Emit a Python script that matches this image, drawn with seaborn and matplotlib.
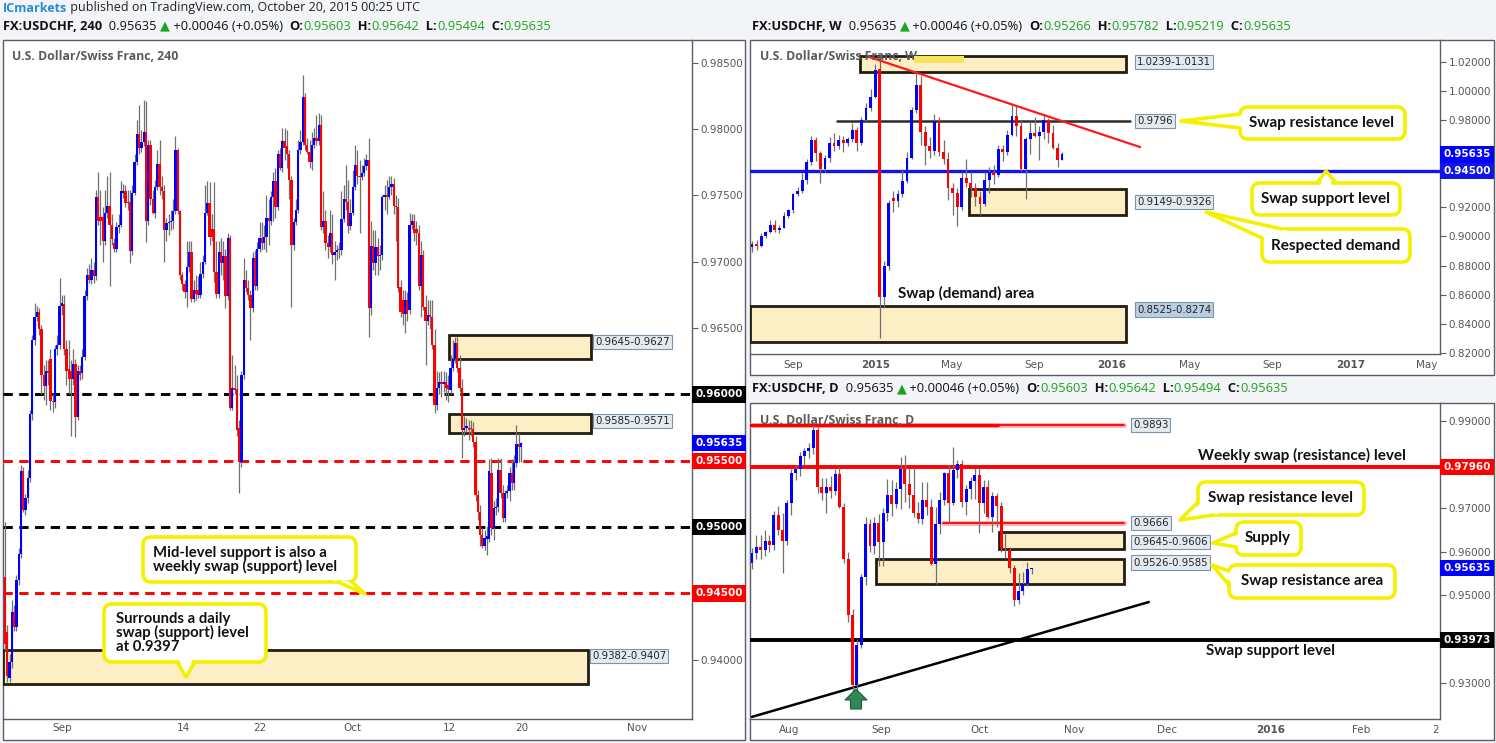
import numpy as np
import pandas as pd
import matplotlib
matplotlib.use("Agg")
import matplotlib.pyplot as plt
import seaborn as sns
from matplotlib.patches import Rectangle, FancyBboxPatch, Polygon
from matplotlib.transforms import Affine2D, blended_transform_factory
from matplotlib.lines import Line2D
from matplotlib.ticker import FuncFormatter

# ------------------------------------------------------------------ data
# USDCHF 240 (4H) candles, Aug 26 - Oct 20 2015
h4_open = [
    .9462, .9421, .9386, .9398, .9436, .9425, .9460, .9480, .9542, .9513,
    .9522, .9537, .9585, .9641, .9658, .9662, .9649, .9615, .9606, .9618,
    .9627, .9595, .9594, .9634, .9637, .9667, .9668, .9634, .9619, .9618,
    .9612, .9623, .9583, .9618, .9616, .9628, .9674, .9690, .9686, .9694,
    .9689, .9749, .9734, .9734, .9716, .9737, .9742, .9728, .9714, .9710,
    .9726, .9728, .9752, .9753, .9745, .9745, .9708, .9752, .9775, .9796,
    .9786, .9790, .9798, .9731, .9788, .9747, .9737, .9756, .9774, .9756,
    .9753, .9724, .9729, .9730, .9731, .9738, .9784, .9738, .9690, .9683,
    .9677, .9696, .9707, .9672, .9679, .9679, .9675, .9691, .9700, .9737,
    .9744, .9725, .9725, .9692, .9676, .9707, .9699, .9704, .9674, .9718,
    .9590, .9605, .9604, .9575, .9549, .9615, .9686, .9680, .9675, .9665,
    .9703, .9682, .9710, .9718, .9714, .9719, .9733, .9731, .9749, .9761,
    .9741, .9781, .9771, .9791, .9787, .9781, .9762, .9713, .9730, .9739,
    .9784, .9790, .9824, .9788, .9783, .9775, .9788, .9793, .9791, .9803,
    .9726, .9731, .9714, .9711, .9722, .9705, .9707, .9710, .9709, .9732,
    .9747, .9745, .9727, .9737, .9756, .9773, .9765, .9764, .9767, .9772,
    .9777, .9665, .9712, .9699, .9711, .9704, .9705, .9749, .9750, .9749,
    .9756, .9759, .9742, .9741, .9681, .9671, .9661, .9671, .9664, .9728,
    .9731, .9725, .9722, .9682, .9705, .9666, .9655, .9660, .9658, .9637,
    .9592, .9605, .9609, .9608, .9609, .9607, .9603, .9620, .9627, .9639,
    .9620, .9605, .9573, .9575, .9575, .9575, .9574, .9564, .9524, .9511,
    .9494, .9486, .9491, .9491, .9541, .9499, .9514, .9515, .9543, .9526,
    .9507, .9526, .9527, .9541, .9533, .9548, .9563, .95603]
h4_high = [
    .9504, .9426, .9404, .9445, .9441, .9464, .9484, .9547, .9545, .9525,
    .9543, .9588, .9645, .9669, .9667, .9665, .9652, .9622, .9626, .9626,
    .9634, .9600, .9637, .9645, .9688, .9675, .9675, .9641, .9641, .9626,
    .9634, .9627, .9622, .9622, .9634, .9679, .9695, .9698, .9703, .9700,
    .9754, .9768, .9754, .9741, .9754, .9765, .9768, .9736, .9718, .9730,
    .9736, .9761, .9759, .9758, .9754, .9754, .9758, .9781, .9807, .9818,
    .9799, .9822, .9821, .9792, .9792, .9754, .9762, .9784, .9792, .9765,
    .9758, .9733, .9736, .9739, .9747, .9795, .9786, .9739, .9692, .9686,
    .9716, .9716, .9716, .9686, .9690, .9689, .9700, .9705, .9758, .9761,
    .9760, .9736, .9760, .9716, .9716, .9718, .9716, .9710, .9722, .9720,
    .9630, .9622, .9615, .9581, .9618, .9703, .9694, .9686, .9679, .9707,
    .9709, .9715, .9730, .9730, .9728, .9750, .9747, .9753, .9768, .9771,
    .9784, .9786, .9801, .9801, .9799, .9784, .9765, .9733, .9747, .9792,
    .9799, .9841, .9827, .9793, .9792, .9798, .9801, .9811, .9812, .9811,
    .9753, .9739, .9720, .9739, .9736, .9716, .9713, .9715, .9753, .9758,
    .9773, .9762, .9747, .9769, .9788, .9784, .9777, .9773, .9778, .9781,
    .9793, .9731, .9724, .9724, .9718, .9713, .9750, .9758, .9762, .9765,
    .9765, .9763, .9750, .9748, .9686, .9679, .9679, .9677, .9737, .9736,
    .9736, .9731, .9728, .9716, .9709, .9675, .9671, .9671, .9671, .9649,
    .9618, .9617, .9618, .9618, .9617, .9615, .9630, .9641, .9643, .9643,
    .9630, .9612, .9584, .9582, .9581, .9581, .9579, .9569, .9528, .9517,
    .9499, .9498, .9501, .9551, .9552, .9520, .9522, .9552, .9552, .9532,
    .9528, .9532, .9545, .9551, .9554, .9577, .9571, .95642]
h4_low = [
    .9407, .9383, .9383, .9394, .9422, .9422, .9456, .9477, .9511, .9509,
    .9518, .9534, .9581, .9637, .9655, .9645, .9600, .9596, .9592, .9607,
    .9588, .9587, .9590, .9630, .9634, .9660, .9630, .9607, .9600, .9569,
    .9607, .9568, .9581, .9611, .9612, .9626, .9671, .9684, .9683, .9684,
    .9686, .9728, .9713, .9700, .9713, .9733, .9682, .9713, .9707, .9707,
    .9722, .9726, .9748, .9741, .9739, .9699, .9705, .9750, .9773, .9781,
    .9783, .9787, .9715, .9728, .9743, .9736, .9733, .9754, .9750, .9747,
    .9700, .9716, .9720, .9724, .9725, .9736, .9736, .9686, .9679, .9673,
    .9666, .9692, .9670, .9670, .9671, .9673, .9673, .9688, .9698, .9735,
    .9713, .9716, .9685, .9673, .9673, .9690, .9686, .9665, .9671, .9588,
    .9588, .9600, .9569, .9526, .9545, .9612, .9677, .9671, .9641, .9662,
    .9679, .9679, .9707, .9709, .9710, .9707, .9713, .9728, .9731, .9733,
    .9739, .9769, .9768, .9777, .9771, .9747, .9666, .9709, .9728, .9737,
    .9781, .9788, .9784, .9781, .9771, .9769, .9786, .9788, .9788, .9724,
    .9722, .9709, .9703, .9707, .9698, .9686, .9701, .9703, .9705, .9730,
    .9739, .9722, .9724, .9735, .9754, .9759, .9722, .9762, .9765, .9769,
    .9643, .9660, .9694, .9690, .9690, .9694, .9701, .9739, .9736, .9747,
    .9750, .9736, .9716, .9677, .9658, .9652, .9646, .9655, .9661, .9725,
    .9716, .9713, .9679, .9658, .9664, .9622, .9652, .9649, .9634, .9586,
    .9588, .9600, .9598, .9602, .9596, .9594, .9600, .9618, .9624, .9617,
    .9602, .9552, .9569, .9572, .9566, .9569, .9560, .9520, .9505, .9486,
    .9484, .9483, .9479, .9489, .9494, .9490, .9509, .9511, .9522, .9504,
    .9504, .9522, .9520, .9528, .9528, .9545, .9549, .95494]
h4_close = [
    .9412, .9388, .9398, .9436, .9425, .9460, .9480, .9542, .9513, .9522,
    .9537, .9585, .9641, .9658, .9662, .9649, .9615, .9606, .9618, .9616,
    .9595, .9594, .9634, .9637, .9667, .9669, .9634, .9618, .9612, .9612,
    .9623, .9583, .9618, .9615, .9628, .9674, .9690, .9686, .9694, .9689,
    .9749, .9731, .9731, .9716, .9737, .9742, .9728, .9717, .9710, .9726,
    .9728, .9753, .9753, .9744, .9744, .9708, .9752, .9775, .9796, .9786,
    .9790, .9798, .9731, .9788, .9747, .9737, .9756, .9774, .9756, .9753,
    .9724, .9729, .9730, .9731, .9738, .9784, .9738, .9690, .9683, .9677,
    .9696, .9707, .9672, .9679, .9676, .9675, .9691, .9700, .9737, .9744,
    .9719, .9719, .9692, .9676, .9707, .9699, .9704, .9674, .9718, .9590,
    .9605, .9603, .9573, .9549, .9615, .9686, .9680, .9675, .9665, .9703,
    .9682, .9710, .9718, .9714, .9719, .9733, .9731, .9749, .9761, .9741,
    .9781, .9771, .9791, .9786, .9781, .9762, .9713, .9730, .9739, .9784,
    .9790, .9824, .9788, .9783, .9775, .9788, .9793, .9791, .9803, .9726,
    .9731, .9714, .9711, .9722, .9705, .9707, .9709, .9709, .9732, .9747,
    .9745, .9727, .9737, .9756, .9773, .9765, .9764, .9767, .9772, .9777,
    .9665, .9712, .9699, .9711, .9704, .9705, .9749, .9750, .9749, .9756,
    .9759, .9742, .9741, .9680, .9662, .9661, .9671, .9661, .9728, .9731,
    .9722, .9722, .9682, .9705, .9666, .9655, .9660, .9658, .9637, .9592,
    .9605, .9609, .9608, .9609, .9605, .9604, .9620, .9627, .9639, .9620,
    .9605, .9573, .9575, .9576, .9573, .9574, .9564, .9524, .9511, .9494,
    .9486, .9492, .9493, .9542, .9499, .9514, .9515, .9543, .9526, .9507,
    .9526, .9527, .9541, .9533, .9548, .9563, .9560, .95635]

# USDCHF weekly candles, week of Jun 30 2014 - week of Oct 19 2015
w_open = [
    .8925, .8950, .8935, .9005, .9030, .9080, .9045, .9060, .9140, .9180,
    .9290, .9310, .9385, .9510, .9665, .9575, .9460, .9540, .9640, .9620,
    .9660, .9640, .9670, .9730, .9640, .9800, .9880, .9960, 1.0150, .8585,
    .8800, .9265, .9245, .9290, .9380, .9540, .9870, 1.0040, .9720, .9620,
    .9590, .9790, .9580, .9530, .9330, .9300, .9200, .9400, .9370, .9330,
    .9270, .9220, .9390, .9440, .9420, .9600, .9580, .9700, .9830, .9760,
    .9460, .9667, .9710, .9690, .9719, .9803, .9712, .9607, .95266]
w_high = [
    .8965, .8975, .9020, .9040, .9115, .9110, .9080, .9165, .9190, .9295,
    .9340, .9435, .9530, .9690, .9685, .9590, .9560, .9680, .9710, .9700,
    .9690, .9680, .9780, .9750, .9820, .9920, 1.0010, 1.0185, 1.0240, .8830,
    .9250, .9310, .9320, .9460, .9580, .9890, 1.0130, 1.0100, .9760, .9680,
    .9840, .9820, .9660, .9580, .9370, .9330, .9440, .9530, .9440, .9370,
    .9310, .9440, .9480, .9490, .9630, .9630, .9730, .9903, .9893, .9800,
    .9680, .9790, .9822, .9761, .9841, .9811, .9765, .9643, .95782]
w_low = [
    .8890, .8905, .8925, .8990, .9020, .9030, .9020, .9055, .9125, .9160,
    .9280, .9300, .9360, .9490, .9520, .9365, .9440, .9510, .9590, .9600,
    .9580, .9620, .9650, .9590, .9630, .9795, .9860, .9950, .8300, .8510,
    .8770, .9170, .9200, .9270, .9370, .9530, .9850, .9630, .9490, .9540,
    .9560, .9550, .9500, .9250, .9150, .9072, .9180, .9340, .9270, .9210,
    .9150, .9210, .9300, .9360, .9410, .9520, .9560, .9690, .9690, .9450,
    .9260, .9568, .9680, .9526, .9666, .9643, .9600, .9476, .95219]
w_close = [
    .8950, .8935, .9005, .9030, .9080, .9045, .9060, .9140, .9180, .9290,
    .9310, .9385, .9510, .9665, .9575, .9460, .9540, .9640, .9620, .9660,
    .9640, .9670, .9730, .9640, .9800, .9880, .9960, 1.0145, .8585, .8800,
    .9230, .9245, .9290, .9380, .9540, .9870, 1.0040, .9720, .9620, .9590,
    .9790, .9580, .9530, .9330, .9300, .9200, .9400, .9370, .9330, .9270,
    .9220, .9390, .9440, .9420, .9600, .9580, .9700, .9830, .9760, .9460,
    .9667, .9710, .9690, .9719, .9803, .9712, .9607, .9527, .95635]

# USDCHF daily candles, Jul 22 - Oct 20 2015
d_open = [
    .9575, .9597, .9612, .9605, .9625, .9616, .9685, .9650, .9625, .9712,
    .9781, .9790, .9820, .9832, .9838, .9880, .9750, .9735, .9750, .9740,
    .9780, .9704, .9585, .9455, .9294, .9386, .9543, .9665, .9614, .9667,
    .9623, .9690, .9731, .9710, .9744, .9790, .9756, .9730, .9690, .9676,
    .9719, .9704, .9573, .9665, .9719, .9781, .9713, .9788, .9803, .9714,
    .9745, .9764, .9777, .9712, .9749, .9680, .9728, .9705, .9607, .9605,
    .9564, .9490, .9510, .9527, .95603]
d_high = [
    .9610, .9640, .9640, .9650, .9640, .9695, .9705, .9690, .9720, .9790,
    .9800, .9830, .9840, .9850, .9893, .9888, .9770, .9770, .9775, .9790,
    .9795, .9712, .9600, .9470, .9400, .9550, .9680, .9675, .9680, .9688,
    .9700, .9768, .9765, .9761, .9818, .9822, .9792, .9795, .9716, .9761,
    .9760, .9722, .9703, .9737, .9784, .9801, .9841, .9812, .9811, .9753,
    .9773, .9793, .9793, .9765, .9765, .9737, .9736, .9716, .9643, .9612,
    .9569, .9552, .9554, .9578, .95642]
d_low = [
    .9560, .9585, .9585, .9590, .9600, .9605, .9640, .9551, .9615, .9685,
    .9765, .9775, .9800, .9815, .9825, .9735, .9720, .9690, .9725, .9730,
    .9700, .9575, .9440, .9260, .9280, .9380, .9525, .9600, .9595, .9568,
    .9568, .9672, .9682, .9700, .9699, .9715, .9700, .9680, .9666, .9665,
    .9685, .9569, .9526, .9641, .9707, .9666, .9709, .9769, .9703, .9686,
    .9722, .9722, .9643, .9690, .9677, .9646, .9658, .9600, .9586, .9552,
    .9476, .9480, .9500, .9522, .95494]
d_close = [
    .9597, .9612, .9605, .9625, .9616, .9685, .9650, .9625, .9712, .9781,
    .9790, .9820, .9832, .9838, .9880, .9750, .9735, .9750, .9740, .9780,
    .9704, .9585, .9455, .9294, .9386, .9543, .9665, .9614, .9667, .9623,
    .9690, .9731, .9710, .9744, .9790, .9756, .9730, .9690, .9676, .9719,
    .9704, .9573, .9665, .9719, .9781, .9713, .9788, .9803, .9714, .9745,
    .9764, .9777, .9712, .9749, .9680, .9728, .9705, .9607, .9605, .9564,
    .9490, .9510, .9527, .9560, .95635]

# annotation values
h4_levels = [0.9600, 0.9550, 0.9500, 0.9450]
h4_level_colors = ['#000000', '#ff0000', '#000000', '#ff0000']
h4_zones = [(0.9645, 0.9627), (0.9585, 0.9571), (0.9407, 0.9382)]
h4_zone_labels = ['0.9645-0.9627', '0.9585-0.9571', '0.9382-0.9407']
h4_ticklabels = ['Sep', '14', '22', 'Oct', '12', '20', 'Nov']
h4_yticks = [0.940, 0.965, 0.970, 0.975, 0.980, 0.985]

w_zones = [(1.0239, 1.0131), (0.9326, 0.9149), (0.8525, 0.8274)]
w_zone_labels = ['1.0239-1.0131', '0.9149-0.9326', '0.8525-0.8274']
w_resistance = 0.9796
w_support = 0.9450
w_trend_idx = [25.7, 85.1]
w_trend_price = [1.0233, 0.9614]
w_ticklabels = ['Sep', '2015', 'May', 'Sep', '2016', 'May', 'Sep', '2017', 'May']
w_yticks = [0.82, 0.84, 0.86, 0.88, 0.90, 0.92, 0.98, 1.00, 1.02]

d_levels = {'high': 0.9893, 'weekly': 0.9796, 'swap_res': 0.9666, 'swap_sup': 0.93973}
d_zones = [(0.9645, 0.9606), (0.9585, 0.9526)]
d_zone_labels = ['0.9645-0.9606', '0.9526-0.9585']
d_trend_idx = [0.0, 90.8]
d_trend_price = [0.9221, 0.9485]
d_ticklabels = ['Aug', 'Sep', 'Oct', 'Nov', 'Dec', '2016', 'Feb', '2']
d_yticks = [0.93, 0.95, 0.96, 0.97, 0.99]

last_price = 0.95635

# ------------------------------------------------------------------ figure
sns.set_theme(style="white")
plt.rcParams['font.family'] = ['DejaVu Sans']
CALLOUT_FONT = ['Lato', 'DejaVu Sans']
HEADER_FONT = ['Open Sans', 'DejaVu Sans']

W, H = 1496, 743
fig = plt.figure(figsize=(W / 100, H / 100), dpi=100)
fig.patch.set_facecolor('#f2f4f7')
renderer = fig.canvas.get_renderer()
PX = Affine2D().scale(1, -1).translate(0, H).scale(1 / W, 1 / H) + fig.transFigure

BLUE, RED, GREEN = '#0000ff', '#ff0000', '#1fa31f'
AXC = '#5b5e66'


def text_width(s, fs, weight='normal', family=None):
    t = fig.text(0, 0, s, fontsize=fs, fontweight=weight, family=family)
    w = t.get_window_extent(renderer).width
    t.remove()
    return w


def fit_fs(s, target, weight='normal', family=None, fs0=10.0):
    return fs0 * target / text_width(s, fs0, weight, family)


def panel(x0, y0, x1, y1):
    fig.add_artist(Rectangle((x0, y0), x1 - x0, y1 - y0, transform=PX, fc='white',
                             ec=AXC, lw=1.0, zorder=-5))


def add_ax(x0, y0, x1, y1):
    ax = fig.add_axes([x0 / W, 1 - y1 / H, (x1 - x0) / W, (y1 - y0) / H])
    ax.set_facecolor('none')
    for s in ['top', 'left']:
        ax.spines[s].set_visible(False)
    for s in ['right', 'bottom']:
        ax.spines[s].set_color(AXC)
        ax.spines[s].set_linewidth(1.0)
    ax.yaxis.tick_right()
    ax.tick_params(axis='y', right=True, left=False, length=4, width=0.8, color=AXC,
                   labelcolor='#555555', labelsize=7.5, pad=2)
    ax.tick_params(axis='x', bottom=False, length=0, labelcolor='#555555', labelsize=7.5, pad=3)
    ax.yaxis.set_major_formatter(FuncFormatter(lambda v, p: f'{v:.5f}'))
    ax.grid(False)
    return ax


def draw_candles(ax, o, h, l, c, width, minh):
    n = min(len(o), len(h), len(l), len(c))
    df = pd.DataFrame({'o': o[:n], 'h': h[:n], 'l': l[:n], 'c': c[:n]})
    x = np.arange(n)
    up = df.c.values >= df.o.values
    ax.vlines(x, df.l, df.h, color='#707070', lw=0.9, zorder=2)
    bottom = np.minimum(df.o, df.c)
    height = np.maximum(np.abs(df.c - df.o), minh)
    ax.bar(x, height, width=width, bottom=bottom, color=np.where(up, BLUE, RED),
           linewidth=0, zorder=3)


def price_tag(ax, price, text, color):
    tr = blended_transform_factory(ax.transAxes, ax.transData)
    ax.annotate(text, xy=(1, price), xycoords=tr, xytext=(3, 0), textcoords='offset pixels',
                ha='left', va='center', color='white', fontsize=7.5, fontweight='bold',
                bbox=dict(boxstyle='square,pad=0.3', fc=color, ec=color, lw=0),
                annotation_clip=False, zorder=12)


def zone(ax, x0, x1, top, bot):
    ax.add_patch(Rectangle((x0, min(top, bot)), x1 - x0, abs(top - bot), fc='#fdefc5',
                           ec='#231d12', lw=2.0, zorder=1))


def small_label(ax, x, price, text, dx, dy, fc='#e3ebf2'):
    ax.annotate(text, xy=(x, price), xycoords='data', xytext=(dx, dy), textcoords='offset pixels',
                ha='left', va='center', fontsize=7.3, color='#222222',
                bbox=dict(boxstyle='square,pad=0.2', fc=fc, ec='#7d93a8', lw=0.8),
                annotation_clip=False, zorder=9)


def callout(box, pointer, text, fs, tx, ty, ha='center', ls=1.0):
    x0, y0, x1, y1 = box
    fig.add_artist(FancyBboxPatch((x0, y0), x1 - x0, y1 - y0,
                                  boxstyle='round,pad=0,rounding_size=8', transform=PX,
                                  fc='white', ec='#f4f000', lw=2.6, zorder=20))
    b1, tip, b2 = pointer
    cx, cy = (x0 + x1) / 2, (y0 + y1) / 2

    def inward(p):
        v = np.array([cx - p[0], cy - p[1]], dtype=float)
        v = v / np.hypot(*v)
        return (p[0] + 5 * v[0], p[1] + 5 * v[1])
    fig.add_artist(Polygon([inward(b1), tip, inward(b2)], closed=True, transform=PX,
                           fc='white', ec='none', zorder=21))
    fig.add_artist(Line2D([b1[0], tip[0], b2[0]], [b1[1], tip[1], b2[1]], transform=PX,
                          color='#f4f000', lw=2.6, zorder=22))
    fig.text(tx, ty, text, transform=PX, ha=ha, va='center', fontsize=fs, fontweight='bold',
             family=CALLOUT_FONT, color='#111111', linespacing=ls, zorder=23)


def rich_line(x, y, parts, fs):
    cx = x
    for s, color, weight in parts:
        t = fig.text(cx, y, s, transform=PX, fontsize=fs, color=color, fontweight=weight,
                     family=HEADER_FONT, ha='left', va='center', zorder=5)
        cx += t.get_window_extent(renderer).width


def header_parts(tf, o, h, l, c):
    return [(f"FX:USDCHF, {tf}", '#111111', 'bold'), ("  0.95635 ", '#111111', 'normal'),
            ("\u25b2", GREEN, 'normal'), (" +0.00046 (+0.05%)  ", '#111111', 'normal'),
            ("O:", '#111111', 'bold'), (o, GREEN, 'normal'), ("  H:", '#111111', 'bold'),
            (h, GREEN, 'normal'), ("  L:", '#111111', 'bold'), (l, GREEN, 'normal'),
            ("  C:", '#111111', 'bold'), (c, GREEN, 'normal')]


# panels
panel(3, 40, 745, 740)
panel(750, 40, 1494, 375)
panel(750, 403, 1494, 740)

# ------------------------------------------------------------------ 4H chart
H4_STEP, H4_X0 = 2.273, 5.0
def h4_idx(px): return (px - H4_X0) / H4_STEP

ax1 = add_ax(3, 40, 692, 719)
draw_candles(ax1, h4_open, h4_high, h4_low, h4_close, 1.0, 0.00009)
for lv, col in zip(h4_levels, h4_level_colors):
    ax1.axhline(lv, color=col, lw=2.1, ls=(0, (3.2, 2.2)), zorder=1.5)
zx = [(h4_idx(449), h4_idx(591)), (h4_idx(449), h4_idx(591)), (h4_idx(3), h4_idx(588))]
for (top, bot), (a, b), lab, dy in zip(h4_zones, zx, h4_zone_labels, [-7, -7, -6]):
    zone(ax1, a, b, top, bot)
    small_label(ax1, b, top, lab, 4, dy)
ax1.set_xlim(h4_idx(3), h4_idx(692))
ax1.set_ylim(0.93553, 0.98672)
ax1.set_yticks(h4_yticks)
ax1.set_xticks([h4_idx(p) for p in [62, 183, 260, 352, 449, 522, 637]])
ax1.set_xticklabels(h4_ticklabels)
price_tag(ax1, 0.9600, '0.96000', '#000000')
price_tag(ax1, last_price, '0.95635', BLUE)
price_tag(ax1, 0.9550, '0.95500', RED)
price_tag(ax1, 0.9500, '0.95000', '#000000')
price_tag(ax1, 0.9450, '0.94500', RED)

# ------------------------------------------------------------------ weekly chart
W_STEP, W_X0 = 4.56, 752.0
def w_idx(px): return (px - W_X0) / W_STEP

ax2 = add_ax(750, 40, 1440, 354)
ax2.tick_params(axis='x', pad=4)
draw_candles(ax2, w_open, w_high, w_low, w_close, 0.62, 0.0008)
wzx = [(w_idx(860), w_idx(1126)), (w_idx(969), w_idx(1126)), (w_idx(750), w_idx(1126))]
for (top, bot), (a, b), lab, dy, fc in zip(w_zones, wzx, w_zone_labels, [-6, -13, -4],
                                           ['#e3ebf2', '#e3ebf2', '#b9cfe1']):
    zone(ax2, a, b, top, bot)
    small_label(ax2, b, max(top, bot), lab, 11, dy, fc=fc)
sns.lineplot(x=[w_idx(837), w_idx(1130)], y=[w_resistance, w_resistance], ax=ax2,
             color='#2b2b2b', lw=1.8, zorder=1.6, legend=False)
small_label(ax2, w_idx(1130), w_resistance, '0.9796', 7, 0)
ax2.axhline(w_support, color='#1414e6', lw=2.4, zorder=1.6)
sns.lineplot(x=w_trend_idx, y=w_trend_price, ax=ax2, color='#ff1a1a', lw=1.6, zorder=4,
             legend=False)
ax2.set_xlim(w_idx(750), w_idx(1440))
ax2.set_ylim(0.81918, 1.03498)
ax2.set_yticks(w_yticks)
ax2.set_xticks([w_idx(p) for p in [793, 876, 952, 1034, 1112, 1190, 1272, 1351, 1427]])
ax2.set_xticklabels(w_ticklabels)
ax2.set_xlabel('')
ax2.set_ylabel('')
price_tag(ax2, last_price, '0.95635', BLUE)
price_tag(ax2, w_support, '0.94500', '#1414e6')

# ------------------------------------------------------------------ daily chart
D_STEP, D_X0 = 4.37, 752.0
def d_idx(px): return (px - D_X0) / D_STEP

ax3 = add_ax(750, 403, 1440, 719)
ax3.tick_params(axis='x', pad=4)
draw_candles(ax3, d_open, d_high, d_low, d_close, 0.68, 0.00025)
ax3.plot([d_idx(750), d_idx(1124)], [d_levels['high']] * 2, color='#ffb0b0', lw=3.5, zorder=1.5)
ax3.plot([d_idx(750), d_idx(1124)], [d_levels['high']] * 2, color=RED, lw=1.3, zorder=1.6)
ax3.plot([d_idx(750), d_idx(998)], [d_levels['high']] * 2, color=RED, lw=2.4, zorder=1.7)
small_label(ax3, d_idx(1124), d_levels['high'], '0.9893', 9, 0)
ax3.axhline(d_levels['weekly'], color=RED, lw=2.8, zorder=1.6)
ax3.plot([d_idx(943), d_idx(1124)], [d_levels['swap_res']] * 2, color='#ffb0b0', lw=3.5, zorder=1.5)
ax3.plot([d_idx(943), d_idx(1124)], [d_levels['swap_res']] * 2, color=RED, lw=1.3, zorder=1.6)
small_label(ax3, d_idx(1124), d_levels['swap_res'], '0.9666', 9, 0)
dzx = [(d_idx(999), d_idx(1124)), (d_idx(876), d_idx(1124))]
for (top, bot), (a, b), lab, dy in zip(d_zones, dzx, d_zone_labels, [-10, -4]):
    zone(ax3, a, b, top, bot)
    small_label(ax3, b, top, lab, 9, dy)
ax3.axhline(d_levels['swap_sup'], color='#000000', lw=2.8, zorder=1.6)
sns.lineplot(x=d_trend_idx, y=d_trend_price, ax=ax3, color='#000000', lw=1.8, zorder=1.6,
             legend=False)
ax3.set_xlim(d_idx(750), d_idx(1440))
ax3.set_ylim(0.92161, 0.99425)
ax3.set_yticks(d_yticks)
ax3.set_xticks([d_idx(p) for p in [789, 881, 979, 1074, 1167, 1271, 1361, 1436]])
ax3.set_xticklabels(d_ticklabels)
ax3.set_xlabel('')
ax3.set_ylabel('')
price_tag(ax3, d_levels['weekly'], '0.97960', RED)
price_tag(ax3, last_price, '0.95635', BLUE)
price_tag(ax3, d_levels['swap_sup'], '0.93973', '#000000')

for ax, bold in [(ax1, []), (ax2, ['2015', '2016', '2017']), (ax3, ['2016'])]:
    for t in ax.get_xticklabels():
        if t.get_text() in bold:
            t.set_fontweight('bold')

# green arrow (Aug 24 low) on the daily chart
fig.add_artist(Polygon([(856, 689), (867, 700), (861.5, 700), (861.5, 709), (850.5, 709),
                        (850.5, 700), (845, 700)], closed=True, transform=PX,
                       fc='#2f8a57', ec='#1d5c39', lw=0.8, zorder=15))

# ------------------------------------------------------------------ headers & titles
row1 = [("ICmarkets", '#2a8bd5', 'bold'),
        (" published on TradingView.com, October 20, 2015 00:25 UTC", '#222222', 'normal')]
fs1 = fit_fs("".join(p[0] for p in row1), 409, 'normal', HEADER_FONT)
rich_line(3, 8, row1, fs1)

hp = header_parts('240', '0.95603', '0.95642', '0.95494', '0.95635')
fs2 = fit_fs("".join(p[0] for p in hp), 540, 'normal', HEADER_FONT)
rich_line(3, 26, hp, fs2)
rich_line(752, 26, header_parts('W', '0.95266', '0.95782', '0.95219', '0.95635'), fs2)
rich_line(752, 389, header_parts('D', '0.95603', '0.95642', '0.95494', '0.95635'), fs2)

fst = fit_fs("U.S. Dollar/Swiss Franc, 240", 166, 'bold', HEADER_FONT)
fig.text(12, 57, "U.S. Dollar/Swiss Franc, 240", transform=PX, fontsize=fst, fontweight='bold',
         family=HEADER_FONT, color='#5a5a5a', va='center', zorder=6)
fig.text(760, 57, "U.S. Dollar/Swiss Franc, W", transform=PX, fontsize=fst, fontweight='bold',
         family=HEADER_FONT, color='#5a5a5a', va='center', zorder=6)
fig.add_artist(Rectangle((914, 56), 50, 7, transform=PX, fc='#f6e45a', ec='none', zorder=7))
fig.text(760, 420, "U.S. Dollar/Swiss Franc, D", transform=PX, fontsize=fst, fontweight='bold',
         family=HEADER_FONT, color='#5a5a5a', va='center', zorder=6)

# ------------------------------------------------------------------ callouts
fsL = fit_fs("Mid-level support is also a", 174, 'bold', CALLOUT_FONT)
fsR = fit_fs("Swap resistance level", 146, 'bold', CALLOUT_FONT)

callout((143, 537, 356, 582), [(338, 582), (365, 594), (352, 582)],
        "Mid-level support is also a\nweekly swap (support) level", fsL, 153, 560, ha='left', ls=0.95)
callout((104, 604, 266, 662), [(177, 662), (186, 677), (195, 662)],
        "Surrounds a daily\nswap (support) level\nat 0.9397", fsL, 116, 633, ha='left', ls=0.92)

callout((1240, 107, 1405, 139), [(1240, 114), (1181, 121), (1240, 128)],
        "Swap resistance level", fsR, 1322, 123)
callout((1252, 183, 1400, 215), [(1317, 183), (1326, 171), (1336, 183)],
        "Swap support level", fsR, 1326, 199)
callout((1262, 229, 1410, 262), [(1262, 238), (1206, 212), (1282, 229)],
        "Respected demand", fsR, 1336, 246)

callout((1198, 482, 1364, 515), [(1198, 502), (1180, 520), (1214, 515)],
        "Swap resistance level", fsR, 1281, 498)
callout((1236, 522, 1301, 555), [(1236, 533), (1213, 543), (1236, 547)],
        "Supply", fsR, 1268, 538)
callout((1229, 565, 1395, 598), [(1229, 571), (1212, 565), (1229, 585)],
        "Swap resistance area", fsR, 1312, 581)

for x, y, s in [(898, 293, "Swap (demand) area"), (1198, 455, "Weekly swap (resistance) level"),
                (1206, 651, "Swap support level")]:
    fig.text(x, y, s, transform=PX, fontsize=fsR, fontweight='bold', family=CALLOUT_FONT,
             color='#111111', va='center', ha='left', zorder=8)

fig.savefig('out.png', dpi=100, facecolor=fig.get_facecolor())
